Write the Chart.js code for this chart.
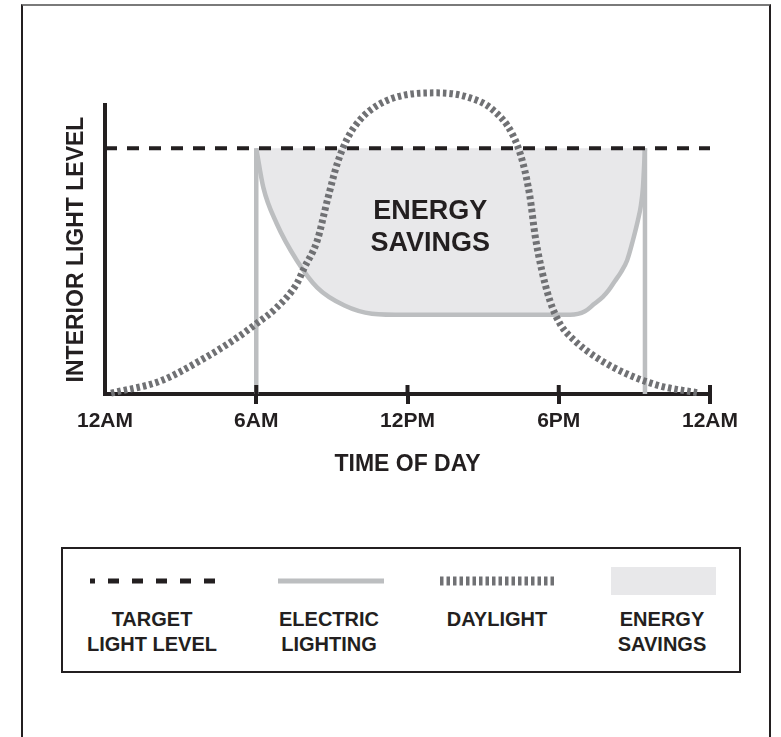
<!DOCTYPE html>
<html>
<head>
<meta charset="utf-8">
<title>Daylight harvesting</title>
<script src="https://cdn.jsdelivr.net/npm/chart.js"></script>
<style>
    html, body { margin: 0; padding: 0; background: #fff; }
    body {
        width: 781px; height: 737px; position: relative; overflow: hidden;
        font-family: "Liberation Sans", Arial, sans-serif; font-weight: bold; color: #231f20;
    }
    #frame {
        position: absolute; left: 21px; top: 4px; width: 746px; height: 780px;
        border: 2px solid #231f20; border-top-color: #7a7a7a;
    }
    #chart-wrap { position: absolute; left: 0; top: 0; width: 781px; height: 520px; }
    #legend {
        position: absolute; left: 61px; top: 547px; width: 676px; height: 122px;
        border: 2px solid #231f20;
    }
    #legend svg { position: absolute; }
    #legend .label {
        position: absolute; top: 58px; width: 200px; text-align: center;
        font-size: 20px; line-height: 25px;
    }
</style>
</head>
<body>
<div id="frame"></div>
<div id="chart-wrap"><canvas id="chart" width="781" height="520"></canvas></div>
<div id="legend"></div>
<script>
const hourTicks = [0, 6, 12, 18, 24];
const tickLabels = ['12AM', '6AM', '12PM', '6PM', '12AM'];

const targetLevel = 85;
const lightsOn = 6;
const lightsOff = 21.42;

// electric lighting, dimmed while daylight comes in
const electricHours = [6, 6.28, 6.81, 7.61, 8.42, 9.5, 10.59, 11.92, 18.45, 19.04, 19.4, 19.75, 19.99, 20.23, 20.47,
    20.71, 20.94, 21.14, 21.26, 21.34, 21.42];
const electricLevels = [85, 71.5, 59.0, 46.2, 36.8, 30.6, 27.8, 27.4, 27.4, 28.6, 31.1, 33.6, 36.0, 39.1, 42.2,
    46.2, 53.1, 60.1, 65.3, 71.5, 85];

const daylightHours = [0.24, 2.2, 3.96, 5.06, 6.0, 6.81, 7.61, 7.89, 8.42, 8.82, 9.22, 9.62, 10.11, 10.83, 11.92,
    13.17, 14.36, 15.39, 16.18, 16.58, 16.86, 17.06, 17.33, 17.65, 18.05, 18.64, 19.52, 20.71, 22.02, 23.6];
const daylightLevels = [0.3, 4.5, 12.5, 18.4, 24.3, 29.9, 38.2, 43.4, 53.1, 67.0, 79.9, 88.5, 94.8, 100, 103.5,
    104.2, 102.8, 98.3, 89.6, 79.9, 68.1, 54.9, 42.7, 32.3, 24.3, 18.4, 12.5, 6.9, 2.8, 0.3];

const savingsText = ['ENERGY', 'SAVINGS'];
const savingsTextHour = 12.9;
const savingsTextLevels = [63, 52];

const legendLabels = [['TARGET', 'LIGHT LEVEL'], ['ELECTRIC', 'LIGHTING'], ['DAYLIGHT'], ['ENERGY', 'SAVINGS']];

const dark = '#231f20';
const electricGray = '#bcbec0';
const daylightGray = '#707174';
const savingsFill = '#e8e8ea';

const toPoints = (xs, ys) => xs.map((x, i) => ({ x: x, y: ys[i] }));
const electricCurve = toPoints(electricHours, electricLevels);

// draws the part of each tick that sits above the axis, and the label inside the shaded area
const extrasPlugin = {
    id: 'extras',
    afterDraw(chart) {
        const { ctx, scales: { x, y } } = chart;
        const base = y.getPixelForValue(0);
        ctx.save();
        ctx.strokeStyle = dark;
        ctx.lineWidth = 4;
        hourTicks.slice(1).forEach(h => {
            const px = x.getPixelForValue(h);
            ctx.beginPath();
            ctx.moveTo(px, base - 9);
            ctx.lineTo(px, base);
            ctx.stroke();
        });
        ctx.fillStyle = dark;
        ctx.font = 'bold 27px "Liberation Sans", Arial, sans-serif';
        ctx.textAlign = 'center';
        ctx.textBaseline = 'middle';
        savingsText.forEach((t, i) => {
            ctx.fillText(t, x.getPixelForValue(savingsTextHour), y.getPixelForValue(savingsTextLevels[i]));
        });
        ctx.restore();
    }
};

Chart.defaults.font.family = '"Liberation Sans", Arial, sans-serif';
Chart.defaults.color = dark;

new Chart(document.getElementById('chart').getContext('2d'), {
    type: 'line',
    data: {
        datasets: [{
            label: 'TARGET LIGHT LEVEL',
            data: [{ x: 0, y: targetLevel }, { x: 24, y: targetLevel }],
            borderColor: dark,
            borderWidth: 4,
            borderDash: [12, 10],
            pointRadius: 0,
            order: 1
        }, {
            label: 'ELECTRIC LIGHTING',
            data: electricCurve,
            borderColor: electricGray,
            borderWidth: 4.5,
            cubicInterpolationMode: 'monotone',
            pointRadius: 0,
            order: 2
        }, {
            label: 'ELECTRIC LIGHTING ON',
            data: [{ x: lightsOn, y: 0 }, { x: lightsOn, y: targetLevel }],
            borderColor: electricGray,
            borderWidth: 4.5,
            pointRadius: 0,
            order: 2
        }, {
            label: 'ELECTRIC LIGHTING OFF',
            data: [{ x: lightsOff, y: targetLevel }, { x: lightsOff, y: 0 }],
            borderColor: electricGray,
            borderWidth: 4.5,
            pointRadius: 0,
            order: 2
        }, {
            label: 'DAYLIGHT',
            data: toPoints(daylightHours, daylightLevels),
            borderColor: daylightGray,
            borderWidth: 7,
            borderDash: [3.5, 3],
            cubicInterpolationMode: 'monotone',
            pointRadius: 0,
            clip: false,
            order: 0
        }, {
            label: 'ENERGY SAVINGS',
            data: electricCurve,
            borderColor: 'rgba(0,0,0,0)',
            borderWidth: 0,
            backgroundColor: savingsFill,
            fill: { value: targetLevel },
            cubicInterpolationMode: 'monotone',
            pointRadius: 0,
            order: 3
        }]
    },
    options: {
        responsive: false,
        animation: false,
        devicePixelRatio: 1,
        layout: { padding: { top: 105, right: 71, left: 0, bottom: 0 } },
        plugins: {
            legend: { display: false },
            tooltip: { enabled: false }
        },
        scales: {
            x: {
                type: 'linear',
                min: 0,
                max: 24,
                afterBuildTicks: scale => { scale.ticks = hourTicks.map(v => ({ value: v })); },
                afterFit: scale => { scale.height = 126; },
                ticks: {
                    callback: value => tickLabels[hourTicks.indexOf(value)],
                    font: { size: 21, weight: 'bold' },
                    color: dark,
                    padding: 5,
                    maxRotation: 0
                },
                grid: {
                    drawOnChartArea: false,
                    drawTicks: true,
                    tickLength: 10,
                    lineWidth: 4,
                    tickColor: ctx => ctx.index === 0 ? 'rgba(0,0,0,0)' : dark
                },
                border: { color: dark, width: 4 },
                title: {
                    display: true,
                    text: 'TIME OF DAY',
                    font: { size: 23, weight: 'bold' },
                    color: dark,
                    padding: { top: 0, bottom: 42 }
                }
            },
            y: {
                min: 0,
                max: 100,
                afterFit: scale => { scale.width = 105; },
                ticks: { display: false },
                grid: { display: false },
                border: { color: dark, width: 4 },
                title: {
                    display: true,
                    text: 'INTERIOR LIGHT LEVEL',
                    font: { size: 23, weight: 'bold' },
                    color: dark,
                    padding: { top: 63, bottom: 0 }
                }
            }
        }
    },
    plugins: [extrasPlugin]
});

// legend: samples and two-line labels inside the box
const legend = document.getElementById('legend');
const labelCenters = [89, 266, 434, 599];
const samples = [
    `<svg width="128" height="12" style="left:27px;top:26px"><line x1="0" y1="6" x2="128" y2="6" stroke="${dark}" stroke-width="5" stroke-dasharray="11 13" stroke-dashoffset="6"/></svg>`,
    `<svg width="106" height="12" style="left:215px;top:26px"><line x1="0" y1="6" x2="106" y2="6" stroke="${electricGray}" stroke-width="5"/></svg>`,
    `<svg width="116" height="14" style="left:377px;top:25px"><line x1="0" y1="7" x2="116" y2="7" stroke="${daylightGray}" stroke-width="9" stroke-dasharray="3.5 3"/></svg>`,
    `<svg width="105" height="28" style="left:548px;top:18px"><rect x="0" y="0" width="105" height="28" fill="${savingsFill}"/></svg>`
];
legendLabels.forEach((lines, i) => {
    legend.insertAdjacentHTML('beforeend', samples[i]);
    const label = document.createElement('div');
    label.className = 'label';
    label.style.left = (labelCenters[i] - 100) + 'px';
    label.innerHTML = lines.join('<br>');
    legend.appendChild(label);
});
</script>
</body>
</html>
